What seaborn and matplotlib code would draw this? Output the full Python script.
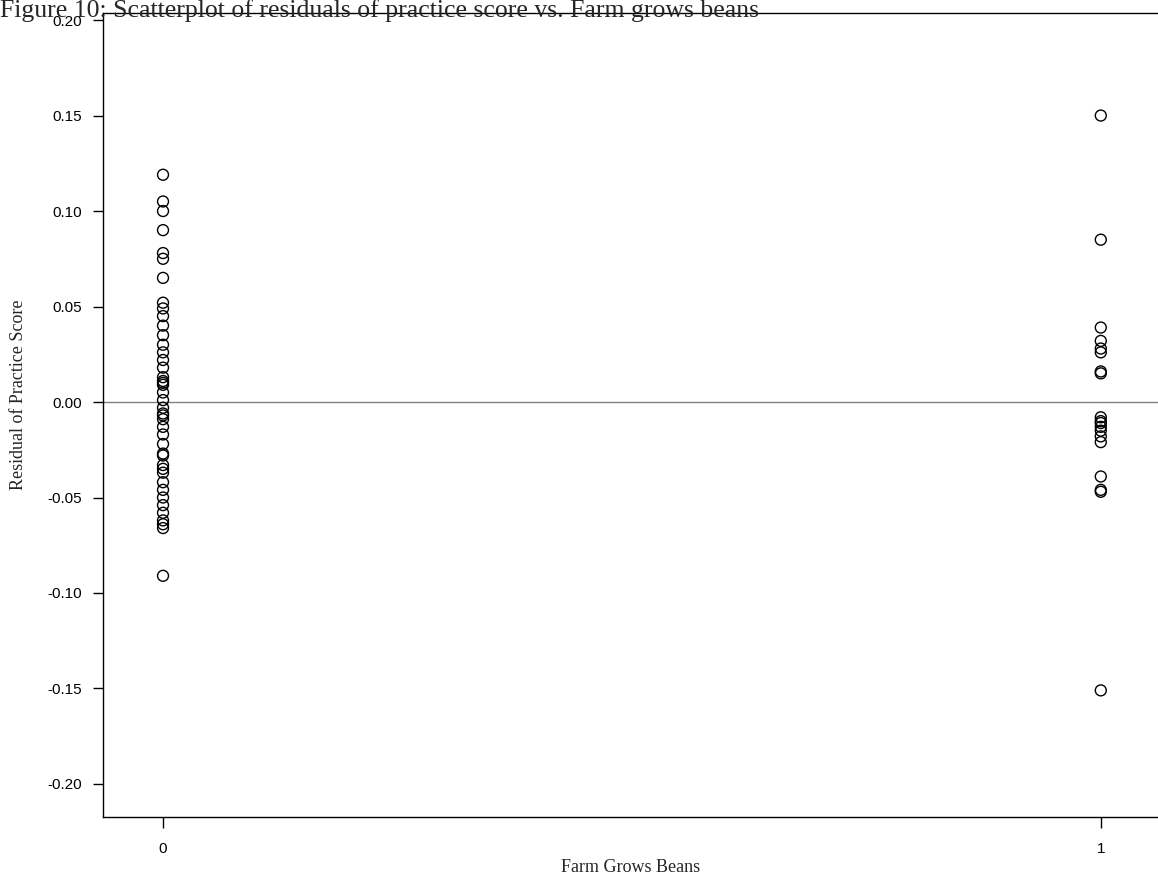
import numpy as np
import pandas as pd
import matplotlib
matplotlib.use("Agg")
import matplotlib.pyplot as plt
import seaborn as sns

# === Residuals ===
resid_no_beans = [
    0.119, 0.105, 0.100, 0.090, 0.078, 0.075, 0.065, 0.052, 0.049, 0.045,
    0.040, 0.035, 0.030, 0.026, 0.022, 0.018, 0.013, 0.011, 0.010, 0.009,
    0.005, 0.001, -0.003, -0.006, -0.007, -0.009, -0.013, -0.017, -0.022,
    -0.027, -0.028, -0.033, -0.035, -0.037, -0.042, -0.046, -0.050, -0.054,
    -0.058, -0.062, -0.064, -0.066, -0.091,
]
resid_beans = [
    0.150, 0.085, 0.039, 0.032, 0.028, 0.026, 0.016, 0.015,
    -0.008, -0.010, -0.011, -0.013, -0.015, -0.018, -0.021,
    -0.039, -0.046, -0.047, -0.151,
]
groups = [0, 1]
ytick_vals = [0.20, 0.15, 0.10, 0.05, 0.00, -0.05, -0.10, -0.15, -0.20]

df = pd.DataFrame({
    "beans": [groups[0]] * len(resid_no_beans) + [groups[1]] * len(resid_beans),
    "resid": resid_no_beans + resid_beans,
})

sns.set_style("white")
plt.rcParams["font.family"] = ["Liberation Serif", "DejaVu Serif"]

fig = plt.figure(figsize=(11.58, 8.80), dpi=100)
ax = fig.add_axes([103 / 1158, 63 / 880, 1055 / 1158, 804 / 880])

ax.axhline(0, color="#808080", lw=1, zorder=1)
sns.scatterplot(data=df, x="beans", y="resid", ax=ax, marker="o", s=62,
                fc="none", ec="black", linewidth=1, zorder=3)

ax.set_xlim(-0.064, 1.061)
ax.set_ylim(-0.2173, 0.2037)
ax.set_xticks(groups)
ax.set_xticklabels([str(g) for g in groups], fontfamily="Liberation Sans", fontsize=11)
ax.set_yticks(ytick_vals)
ax.set_yticklabels([f"{v:.2f}" for v in ytick_vals], fontfamily="Liberation Sans", fontsize=11)
ax.tick_params(axis="y", direction="out", length=7, width=1, pad=8, left=True, colors="black")
ax.tick_params(axis="x", direction="out", length=8, width=1, pad=10, bottom=True, colors="black")

for side in ["left", "bottom", "top"]:
    ax.spines[side].set_visible(True)
    ax.spines[side].set_color("black")
    ax.spines[side].set_linewidth(1)
ax.spines["right"].set_visible(False)

ax.set_xlabel("Farm Grows Beans", fontsize=13)
ax.xaxis.set_label_coords(0.5, -0.052)
ax.set_ylabel("Residual of Practice Score", fontsize=13)
ax.yaxis.set_label_coords(-0.072, 0.525)

fig.text(0.0, 1 - 17 / 880, "Figure 10: Scatterplot of residuals of practice score vs. Farm grows beans",
         fontsize=18.5, ha="left", va="baseline")

fig.savefig("out.png", dpi=100, facecolor="white")
